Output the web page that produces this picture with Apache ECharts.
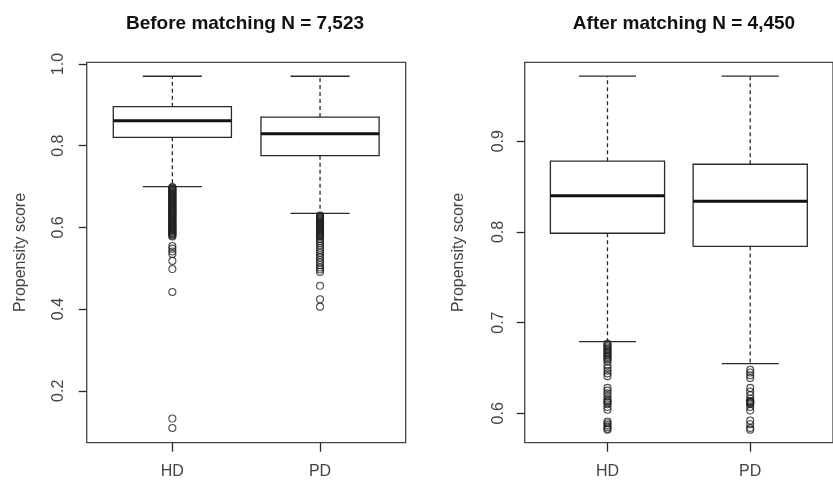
<!DOCTYPE html>
<html><head><meta charset="utf-8">
<script src="https://cdn.jsdelivr.net/npm/echarts@6/dist/echarts.min.js"></script>
<style>html,body{margin:0;padding:0;background:#fff}#c{width:833px;height:480px}</style>
</head><body><div id="c"></div>
<script>
// ---- data ----
const categories = ['HD', 'PD'];
const titles = ['Before matching N = 7,523', 'After matching N = 4,450'];
const yAxisName = 'Propensity score';

// [lower whisker, Q1, median, Q3, upper whisker]
const beforeHD = [0.700, 0.8205, 0.861, 0.8955, 0.970];
const beforePD = [0.6345, 0.7756, 0.8294, 0.870, 0.970];
const afterHD  = [0.679, 0.7985, 0.840, 0.878, 0.9717];
const afterPD  = [0.6548, 0.784, 0.8338, 0.8746, 0.9717];

const beforeHDOut = [0.699, 0.697, 0.695, 0.693, 0.691, 0.689, 0.687, 0.685, 0.683, 0.681, 0.679, 0.677,
  0.675, 0.673, 0.671, 0.669, 0.667, 0.665, 0.663, 0.661, 0.659, 0.657, 0.655, 0.653, 0.651, 0.649,
  0.647, 0.645, 0.643, 0.641, 0.639, 0.637, 0.635, 0.633, 0.631, 0.629, 0.627, 0.625, 0.622, 0.620,
  0.618, 0.616, 0.614, 0.612, 0.610, 0.608, 0.606, 0.604, 0.602, 0.600, 0.598, 0.596, 0.594, 0.592,
  0.590, 0.588, 0.586, 0.584, 0.582, 0.580, 0.578,
  0.5545, 0.548, 0.541, 0.535, 0.518, 0.498, 0.442, 0.132, 0.109];
const beforePDOut = [0.629, 0.627, 0.625, 0.623, 0.621, 0.619, 0.617, 0.615, 0.613, 0.611, 0.609, 0.607,
  0.605, 0.603, 0.601, 0.599, 0.597, 0.595, 0.593, 0.591, 0.589, 0.587, 0.585, 0.583, 0.581, 0.579,
  0.577, 0.572, 0.567, 0.562, 0.556, 0.550, 0.544, 0.538, 0.532, 0.526, 0.520, 0.514, 0.508, 0.502,
  0.497, 0.491, 0.457, 0.424, 0.406];
const afterHDOut = [0.677, 0.6755, 0.674, 0.6725, 0.671, 0.6695, 0.668, 0.6665, 0.665, 0.6635, 0.662,
  0.6605, 0.659, 0.657, 0.653, 0.650, 0.647, 0.644, 0.641, 0.628, 0.625, 0.622, 0.619, 0.616, 0.614,
  0.613, 0.612, 0.610, 0.607, 0.604, 0.591, 0.589, 0.587, 0.585, 0.583, 0.582];
const afterPDOut = [0.648, 0.645, 0.642, 0.639, 0.628, 0.624, 0.620, 0.616, 0.6135, 0.613, 0.6125,
  0.612, 0.611, 0.610, 0.607, 0.603, 0.592, 0.588, 0.584, 0.582];

const beforeTicks = [0.2, 0.4, 0.6, 0.8, 1.0];
const afterTicks = [0.6, 0.7, 0.8, 0.9];
const beforeRange = [0.0729, 1.0042];
const afterRange = [0.5676, 0.987];

// ---- chart ----
const xPos = categories.map((c, i) => i + 1);
const FONT = 'Liberation Sans, Arial, sans-serif';
const INK = '#2a2a2a';

function renderBox(params, api) {
  const x = api.value(0);
  const pLo = api.coord([x, api.value(1)]);
  const pQ1 = api.coord([x, api.value(2)]);
  const pMd = api.coord([x, api.value(3)]);
  const pQ3 = api.coord([x, api.value(4)]);
  const pHi = api.coord([x, api.value(5)]);
  const bw = api.size([0.8, 0])[0];
  const half = bw / 2, cap = bw / 4, cx = pMd[0];
  const ln = { stroke: INK, lineWidth: 1.3, fill: null };
  return {
    type: 'group', children: [
      { type: 'line', shape: { x1: cx, y1: pQ3[1], x2: cx, y2: pHi[1] }, style: Object.assign({}, ln, { lineDash: [4, 3] }) },
      { type: 'line', shape: { x1: cx, y1: pQ1[1], x2: cx, y2: pLo[1] }, style: Object.assign({}, ln, { lineDash: [4, 3] }) },
      { type: 'line', shape: { x1: cx - cap, y1: pHi[1], x2: cx + cap, y2: pHi[1] }, style: ln },
      { type: 'line', shape: { x1: cx - cap, y1: pLo[1], x2: cx + cap, y2: pLo[1] }, style: ln },
      { type: 'rect', shape: { x: cx - half, y: pQ3[1], width: bw, height: pQ1[1] - pQ3[1] }, style: { stroke: INK, lineWidth: 1.3, fill: '#fff' } },
      { type: 'line', shape: { x1: cx - half, y1: pMd[1], x2: cx + half, y2: pMd[1] }, style: { stroke: '#111', lineWidth: 3 } }
    ]
  };
}

function xAxis(gi) {
  return {
    type: 'value', gridIndex: gi, min: 0.42, max: 2.58,
    axisLine: { show: false }, splitLine: { show: false },
    axisTick: { show: true, length: 9, customValues: xPos, lineStyle: { color: INK, width: 1.3 } },
    axisLabel: { customValues: xPos, formatter: v => categories[Math.round(v) - 1], margin: 21,
      fontSize: 16, color: '#444', fontFamily: FONT }
  };
}
function yAxis(gi, range, ticks, margin, gap) {
  return {
    type: 'value', gridIndex: gi, min: range[0], max: range[1],
    name: yAxisName, nameLocation: 'middle', nameGap: gap,
    nameTextStyle: { fontSize: 16, color: '#444', fontFamily: FONT },
    axisLine: { show: false }, splitLine: { show: false },
    axisTick: { show: true, length: 8, customValues: ticks, lineStyle: { color: INK, width: 1.3 } },
    axisLabel: { customValues: ticks, rotate: 90, formatter: v => v.toFixed(1), margin: margin,
      fontSize: 16, color: '#444', fontFamily: FONT }
  };
}
function boxSeries(gi, hd, pd) {
  return {
    type: 'custom', xAxisIndex: gi, yAxisIndex: gi, clip: false,
    renderItem: renderBox, encode: { x: 0, y: [1, 2, 3, 4, 5] },
    data: [[xPos[0]].concat(hd), [xPos[1]].concat(pd)], silent: true
  };
}
function outSeries(gi, x, vals) {
  return {
    type: 'scatter', xAxisIndex: gi, yAxisIndex: gi, symbol: 'circle', symbolSize: 7,
    itemStyle: { color: 'rgba(0,0,0,0)', borderColor: '#222', borderWidth: 1.1 },
    data: vals.map(v => [x, v]), silent: true, z: 3
  };
}

const chart = echarts.init(document.getElementById('c'), null, { renderer: 'canvas' });
const gridBase = { top: 62.3, height: 380.4, width: 319, show: true, borderColor: '#444', borderWidth: 1.3, backgroundColor: 'transparent' };
chart.setOption({
  animation: false,
  backgroundColor: '#fff',
  grid: [Object.assign({ left: 86.7 }, gridBase), Object.assign({ left: 524.7 }, gridBase)],
  xAxis: [xAxis(0), xAxis(1)],
  yAxis: [yAxis(0, beforeRange, beforeTicks, 20, 58), yAxis(1, afterRange, afterTicks, 18, 58)],
  graphic: [
    { type: 'text', x: 245, y: 24, style: { text: titles[0], fill: '#111', font: 'bold 19px ' + FONT, textAlign: 'center', textVerticalAlign: 'middle' } },
    { type: 'text', x: 684, y: 24, style: { text: titles[1], fill: '#111', font: 'bold 19px ' + FONT, textAlign: 'center', textVerticalAlign: 'middle' } }
  ],
  series: [
    boxSeries(0, beforeHD, beforePD),
    outSeries(0, xPos[0], beforeHDOut),
    outSeries(0, xPos[1], beforePDOut),
    boxSeries(1, afterHD, afterPD),
    outSeries(1, xPos[0], afterHDOut),
    outSeries(1, xPos[1], afterPDOut)
  ]
});
</script></body></html>
